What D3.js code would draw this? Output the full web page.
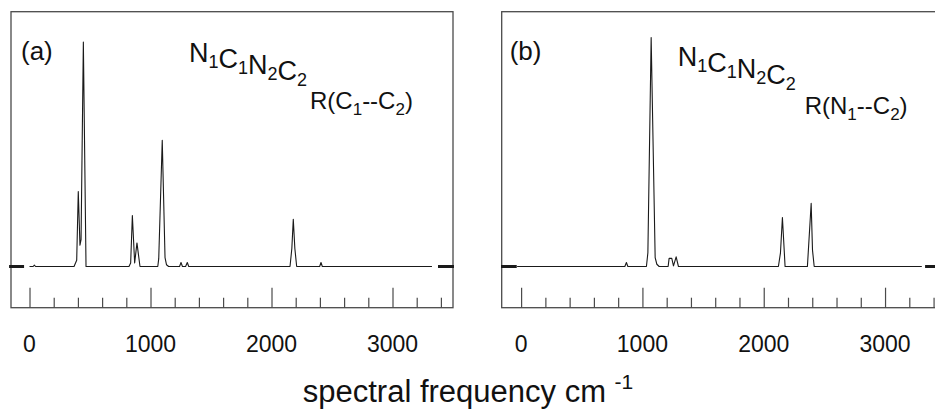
<!DOCTYPE html>
<html>
<head>
<meta charset="utf-8">
<script src="https://cdnjs.cloudflare.com/ajax/libs/d3/7.8.5/d3.min.js"></script>
<style>
  body { margin: 0; background: #fff; }
  svg { display: block; font-family: "Liberation Sans", Arial, sans-serif; }
</style>
</head>
<body>
<div id="chart"></div>
<script>
// spectrum (a): [frequency cm-1, intensity]
const specA = [[0,0],[30,0],[40,0.6],[50,0],[368,0],[390,2.8],[403,33.4],[417,9.5],[426,12],[445,100],[467,0],
  [822,0],[836,1.6],[850,22.7],[869,1.6],[888,10.5],[913,0],
  [1060,0],[1068,3.5],[1097,56.2],[1120,4],[1132,0.8],[1150,0],
  [1240,0],[1252,1.8],[1264,0],[1290,0],[1304,1.8],[1316,0],
  [2153,0],[2168,8],[2180,21],[2193,8],[2208,0],
  [2398,0],[2409,1.8],[2420,0],[3326,0]];
// spectrum (b)
const specB = [[-33,0],[855,0],[868,1.8],[880,0],
  [1033,0],[1045,6.1],[1072,102],[1105,4],[1119,1],[1138,0],
  [1212,0],[1220,3.6],[1242,3.6],[1256,0.3],[1278,4.3],[1297,0],
  [2121,0],[2138,6.1],[2154,21.8],[2176,0],
  [2360,0],[2391,28.1],[2402,7.3],[2416,0],[3303,0]];
// thick zero marks at both ends of the base line
const breaksA = [[-169,-45],[3376,3508]];
const breaksB = [[-166,-36],[3330,3520]];

const majorTicks = [0, 1000, 2000, 3000];
const minorTicks = [200, 400, 600, 800, 1200, 1400, 1600, 1800, 2200, 2400, 2600, 2800, 3200, 3400];
const tickLabels = ["0", "1000", "2000", "3000"];

const panelLabels = ["(a)", "(b)"];
const bondLabels = [["C", "1", "--C", "2", ")"], ["N", "1", "--C", "2", ")"]];

const width = 935, height = 412;
const yTop = 11.7, yBottom = 307.7;

var svg = d3.select("#chart").append("svg")
  .attr("width", width)
  .attr("height", height);

const y = d3.scaleLinear().domain([0, 100]).range([266.5, 42]);

function panel(opt) {
  const x = d3.scaleLinear().domain(opt.domain).range(opt.range);
  const g = svg.append("g");

  // frame
  g.append("rect")
    .attr("x", opt.range[0]).attr("y", yTop)
    .attr("width", opt.range[1] - opt.range[0]).attr("height", yBottom - yTop)
    .attr("fill", "none").attr("stroke", "#4a4a4a").attr("stroke-width", 1.3);

  // ticks pointing up from the bottom edge
  g.append("g")
    .attr("transform", "translate(0," + yBottom + ")")
    .call(d3.axisTop(x).tickValues(majorTicks).tickSize(20).tickFormat(""))
    .call(a => a.select(".domain").remove())
    .selectAll("line").attr("stroke", "#4a4a4a").attr("stroke-width", 1.2);
  g.append("g")
    .attr("transform", "translate(0," + yBottom + ")")
    .call(d3.axisTop(x).tickValues(minorTicks).tickSize(10).tickFormat(""))
    .call(a => a.select(".domain").remove())
    .selectAll("line").attr("stroke", "#4a4a4a").attr("stroke-width", 1.2);

  g.selectAll(".tl")
    .data(majorTicks)
    .enter().append("text")
    .attr("x", d => x(d))
    .attr("y", 351.5)
    .attr("text-anchor", "middle")
    .attr("font-size", 23)
    .attr("fill", "#111")
    .text((d, i) => tickLabels[i]);

  // spectrum
  const line = d3.line().x(d => x(d[0])).y(d => y(d[1]));
  g.append("path")
    .datum(opt.spec)
    .attr("d", line)
    .attr("fill", "none")
    .attr("stroke", "#1a1a1a")
    .attr("stroke-width", 1.1)
    .attr("stroke-linejoin", "round");

  g.selectAll(".brk")
    .data(opt.breaks)
    .enter().append("line")
    .attr("x1", d => x(d[0])).attr("x2", d => x(d[1]))
    .attr("y1", y(0)).attr("y2", y(0))
    .attr("stroke", "#1a1a1a").attr("stroke-width", 3);

  // labels
  g.append("text")
    .attr("x", opt.range[0] + opt.lab[0]).attr("y", opt.lab[1])
    .attr("font-size", 26).attr("fill", "#111")
    .text(opt.name);

  const mol = g.append("text")
    .attr("x", opt.range[0] + opt.mol[0]).attr("y", opt.mol[1])
    .attr("font-size", 27).attr("fill", "#111");
  [["N", "1"], ["C", "1"], ["N", "2"], ["C", "2"]].forEach(p => {
    mol.append("tspan").text(p[0]);
    mol.append("tspan").attr("font-size", 18).attr("dy", 6).text(p[1]);
    mol.append("tspan").attr("dy", -6).text("");
  });

  const r = g.append("text")
    .attr("x", opt.range[0] + opt.bond[0]).attr("y", opt.bond[1])
    .attr("font-size", 24).attr("fill", "#111");
  const b = opt.bondText;
  r.append("tspan").text("R(" + b[0]);
  r.append("tspan").attr("font-size", 17).attr("dy", 6).text(b[1]);
  r.append("tspan").attr("dy", -6).text(b[2]);
  r.append("tspan").attr("font-size", 17).attr("dy", 6).text(b[3]);
  r.append("tspan").attr("dy", -6).text(b[4]);
}

panel({ domain: [-153, 3500], range: [11, 453], spec: specA, breaks: breaksA,
  name: panelLabels[0], lab: [10, 60], mol: [178, 62], bond: [299, 109], bondText: bondLabels[0] });
panel({ domain: [-160, 3500], range: [501.7, 945.7], spec: specB, breaks: breaksB,
  name: panelLabels[1], lab: [8, 60], mol: [176, 66], bond: [303, 114], bondText: bondLabels[1] });

// x axis title
const t = svg.append("text")
  .attr("x", 468).attr("y", 402)
  .attr("text-anchor", "middle")
  .attr("font-size", 31).attr("fill", "#111");
t.append("tspan").text("spectral frequency cm ");
t.append("tspan").attr("font-size", 21).attr("dy", -13).text("-1");
</script>
</body>
</html>
